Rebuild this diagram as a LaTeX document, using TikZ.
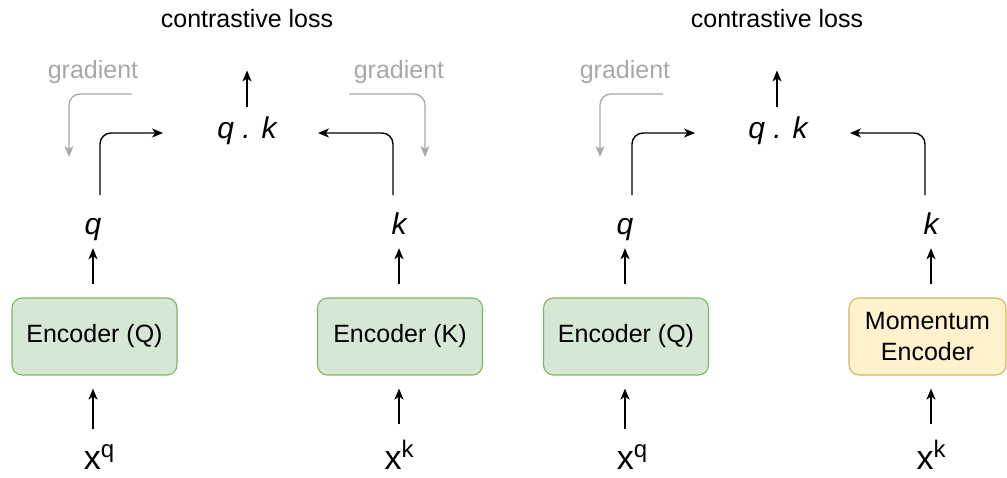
\documentclass[tikz,border=0pt]{standalone}
\usepackage{fontspec}
\setmainfont{Liberation Sans}
\usetikzlibrary{arrows.meta}

\definecolor{encfill}{HTML}{D5E8D4}
\definecolor{encdraw}{HTML}{82B366}
\definecolor{momfill}{HTML}{FFF2CC}
\definecolor{momdraw}{HTML}{D6B656}
\definecolor{gradgray}{HTML}{A8A8A8}

\newcommand{\inputvar}[1]{{\fontsize{34}{40}\selectfont x}\raisebox{12pt}{\fontsize{24}{28}\selectfont #1}}

\tikzset{
  txt/.style={inner sep=0pt, font=\fontsize{25}{30}\selectfont},
  gradtxt/.style={txt, text=gradgray},
  sym/.style={inner sep=0pt, text height=22pt, text depth=6pt,
              font=\fontsize{30}{36}\selectfont\itshape},
  inp/.style={inner sep=0pt},
  enc/.style={draw=encdraw, fill=encfill, rounded corners=10pt,
              minimum width=165pt, minimum height=77pt, line width=1.1pt,
              align=center, font=\fontsize{25}{31}\selectfont},
  mom/.style={enc, draw=momdraw, fill=momfill, minimum width=157pt},
  arr/.style={-{Stealth[length=11pt,width=9pt,inset=3pt]}, line width=1.4pt},
  bendarr/.style={arr, rounded corners=11pt},
  gradarr/.style={bendarr, draw=gradgray, line width=1.3pt},
}

\begin{document}
\begin{tikzpicture}[x=1pt, y=-1pt]
  \useasboundingbox (0,0) rectangle (1007,477);

  % ---------- left panel: two encoders trained end to end ----------
  \node[txt, anchor=base] (loss1) at (247,27) {contrastive loss};
  \node[gradtxt, anchor=base] (gradL1) at (93,78) {gradient};
  \node[gradtxt, anchor=base] (gradR1) at (399,78) {gradient};
  \node[sym, anchor=base] (qk1) at (247,138) {q . k};
  \node[sym, anchor=base] (q1) at (93,234) {q};
  \node[sym, anchor=base] (k1) at (399,234) {k};
  \node[enc] (encQ1) at (94.5,336.5) {Encoder (Q)};
  \node[enc] (encK1) at (400,336.5) {Encoder (K)};
  \node[inp, anchor=base] (xq1) at (99,469) {\inputvar{q}};
  \node[inp, anchor=base] (xk1) at (399,469) {\inputvar{k}};

  \coordinate (q1top) at (100,195);
  \coordinate (k1top) at (393,195);
  \coordinate (gL1s) at (132,94);
  \coordinate (gL1e) at (69,157);
  \coordinate (gR1s) at (349,94);
  \coordinate (gR1e) at (425,157);

  \draw[arr, shorten <=9pt, shorten >=43pt] (qk1.north) -- (qk1.north |- loss1.south);
  \draw[bendarr, shorten >=54pt] (q1top) |- ([yshift=-3pt]qk1.west);
  \draw[bendarr, shorten >=41pt] (k1top) |- ([yshift=-3pt]qk1.east);
  \draw[gradarr] (gL1s) -| (gL1e);
  \draw[gradarr] (gR1s) -| (gR1e);

  \draw[arr, shorten <=13pt, shorten >=8pt] (q1.south |- encQ1.north) -- (q1.south);
  \draw[arr, shorten <=13pt, shorten >=8pt] (k1.south |- encK1.north) -- (k1.south);
  \draw[arr, shorten <=15pt, shorten >=13pt] (q1.south |- xq1.north) -- (q1.south |- encQ1.south);
  \draw[arr, shorten <=15pt, shorten >=13pt] (k1.south |- xk1.north) -- (k1.south |- encK1.south);

  % ---------- right panel: query encoder with a momentum encoder ----------
  \node[txt, anchor=base] (loss2) at (777,27) {contrastive loss};
  \node[gradtxt, anchor=base] (grad2) at (625,78) {gradient};
  \node[sym, anchor=base] (qk2) at (778,138) {q . k};
  \node[sym, anchor=base] (q2) at (625,234) {q};
  \node[sym, anchor=base] (k2) at (931,234) {k};
  \node[enc] (encQ2) at (626,336.5) {Encoder (Q)};
  \node[mom] (mom2) at (927.5,336.5) {Momentum\\Encoder};
  \node[inp, anchor=base] (xq2) at (632,469) {\inputvar{q}};
  \node[inp, anchor=base] (xk2) at (931,469) {\inputvar{k}};

  \coordinate (q2top) at (632,195);
  \coordinate (k2top) at (925,195);
  \coordinate (g2s) at (663,94);
  \coordinate (g2e) at (600,157);

  \draw[arr, shorten <=9pt, shorten >=43pt] ([xshift=-1pt]qk2.north) -- ([xshift=-1pt]qk2.north |- loss2.south);
  \draw[bendarr, shorten >=53pt] (q2top) |- ([yshift=-3pt]qk2.west);
  \draw[bendarr, shorten >=42pt] (k2top) |- ([yshift=-3pt]qk2.east);
  \draw[gradarr] (g2s) -| (g2e);

  \draw[arr, shorten <=13pt, shorten >=8pt] (q2.south |- encQ2.north) -- (q2.south);
  \draw[arr, shorten <=13pt, shorten >=8pt] (k2.south |- mom2.north) -- (k2.south);
  \draw[arr, shorten <=15pt, shorten >=13pt] (q2.south |- xq2.north) -- (q2.south |- encQ2.south);
  \draw[arr, shorten <=15pt, shorten >=13pt] (k2.south |- xk2.north) -- (k2.south |- mom2.south);
\end{tikzpicture}
\end{document}
